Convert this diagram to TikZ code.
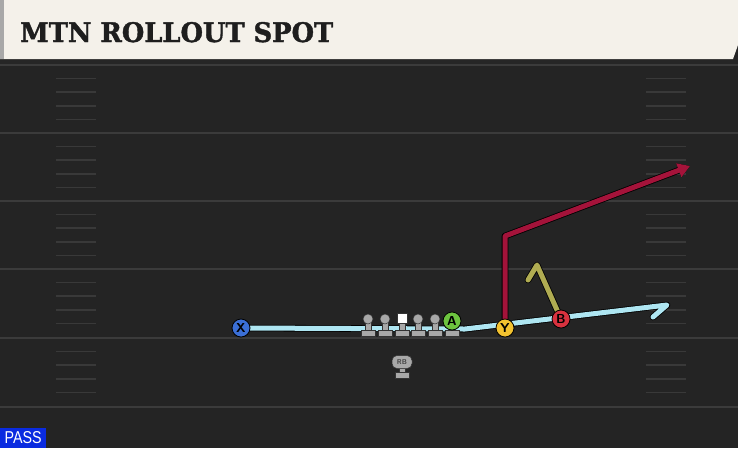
\documentclass[tikz,border=0pt]{standalone}
\usepackage{fontspec}
\usetikzlibrary{arrows.meta,backgrounds}
\newfontfamily\titlefont{DejaVu Serif Bold}[FakeBold=1.5]
\newfontfamily\passfont{Liberation Sans}
\definecolor{fieldgray}{HTML}{242424}
\definecolor{yardgray}{HTML}{3B3B3B}
\definecolor{hashgray}{HTML}{393939}
\definecolor{headercream}{HTML}{F4F1EA}
\definecolor{titleblack}{HTML}{1E1E1E}
\definecolor{routeblue}{HTML}{AEE6F2}
\definecolor{routered}{HTML}{A4133A}
\definecolor{routeolive}{HTML}{B0AC52}
\definecolor{xblue}{HTML}{3B6FD6}
\definecolor{agreen}{HTML}{6DC43F}
\definecolor{yyellow}{HTML}{F2C230}
\definecolor{bred}{HTML}{D8323F}
\definecolor{icongray}{HTML}{A8A8A8}
\definecolor{passblue}{HTML}{0A2BE0}

\begin{document}
\begin{tikzpicture}[x=1pt,y=-1pt,
    main/.style = {circle, draw=black, line width=0.8pt, minimum size=18pt, inner sep=0pt, font=\sffamily\bfseries\fontsize{13}{13}\selectfont},
    route/.style = {line width=5pt, line join=round, line cap=round, preaction={draw=black, line width=6.6pt, line join=round, line cap=round}},
    yard/.style = {draw=yardgray, line width=2pt},
    hash/.style = {draw=hashgray, line width=1.6pt},
    icon/.style = {fill=icongray, draw=black!80, line width=0.5pt}]
    \useasboundingbox (0,0) rectangle (738,448);
    % field and header
    \begin{scope}[on background layer]
        \fill[fieldgray] (0,0) rectangle (738,448);
        \fill[black!85] (0,57) rectangle (738,64);
        \foreach \y in {65,133,201,269,338,407}
            \draw[yard] (0,\y) -- (738,\y);
        \foreach \y in {65,133,201,269,338}
            \foreach \k in {1,...,4} {
                \draw[hash] (56,\y+\k*13.6) -- (96,\y+\k*13.6);
                \draw[hash] (646,\y+\k*13.6) -- (686,\y+\k*13.6);
            }
        \fill[headercream] (0,0) -- (738,0) -- (738,45) -- (733,59) -- (0,59) -- cycle;
        \fill[icongray] (0,0) rectangle (4,59);
    \end{scope}
    \node[anchor=base west, inner sep=0pt, text=titleblack] (title) at (20,42)
        {\resizebox{313pt}{20pt}{\titlefont MTN ROLLOUT SPOT}};
    \node[anchor=south west, fill=passblue, text=white, minimum width=46pt, minimum height=20pt, inner sep=0pt] (pass) at (0,448)
        {\resizebox{37pt}{12pt}{\passfont PASS}};
    % line
    \foreach \x in {368,385,418,435} {
        \filldraw[icon] (\x-7,330) rectangle (\x+7,336);
        \filldraw[icon] (\x-3,322) rectangle (\x+3,330);
        \filldraw[icon] (\x,319) circle (5);
    }
    \filldraw[icon] (395,330) rectangle (409,336);
    \filldraw[icon] (399,322) rectangle (405,330);
    \filldraw[fill=white, draw=black!80, line width=0.5pt] (397,313) rectangle (407,323);
    % running back
    \filldraw[icon] (395,372) rectangle (409,378);
    \filldraw[icon] (399,368) rectangle (405,372);
    \node[icon, rounded corners=5pt, minimum width=20pt, minimum height=13pt, inner sep=0pt, text=black!75, font=\sffamily\bfseries\fontsize{7}{7}\selectfont] (rb) at (402,362) {RB};
    % skill players
    \filldraw[icon] (445,330) rectangle (459,336);
    \node[main, fill=xblue] (X) at (241,328) {X};
    \node[main, fill=agreen] (A) at (452,321) {A};
    \node[main, fill=yyellow] (Y) at (505,328) {Y};
    \node[main, fill=bred] (B) at (561,319) {B};
    \coordinate (bend) at (465,329);
    \coordinate (blueend) at (667,305);
    \coordinate (bluebarb) at (653,317);
    \coordinate (redcorner) at (505,236);
    \coordinate (redend) at (690,166);
    \coordinate (olivetip) at (537,265);
    \coordinate (olivebarb) at (528,280);
    % routes
    \begin{scope}[on background layer]
        \draw[route, routeblue] (X.center) -- (bend) -- (blueend) -- (bluebarb);
        \draw[route, routered, -{Triangle[length=12pt,width=14pt]}] (Y.center) -- (redcorner) -- (redend);
        \draw[route, routeolive] (B.center) -- (olivetip) -- (olivebarb);
    \end{scope}
\end{tikzpicture}
\end{document}
